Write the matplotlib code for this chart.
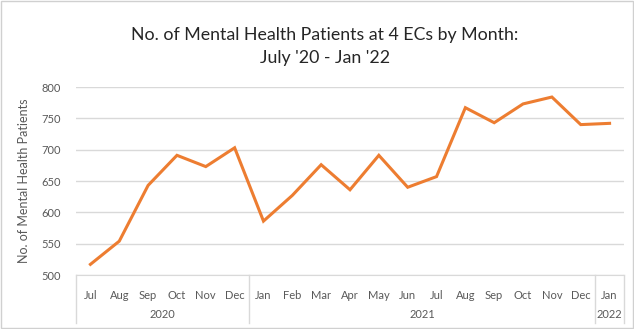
import matplotlib
matplotlib.use("Agg")
import matplotlib.pyplot as plt
from matplotlib.patches import Rectangle

months = ["Jul", "Aug", "Sep", "Oct", "Nov", "Dec",
          "Jan", "Feb", "Mar", "Apr", "May", "Jun", "Jul", "Aug", "Sep", "Oct", "Nov", "Dec",
          "Jan"]
years = ["2020", "2021", "2022"]
year_counts = [6, 12, 1]
patients = [517, 554, 643, 691, 673, 703,
            586, 627, 676, 636, 691, 640, 657, 767, 743, 773, 784, 740,
            742]
yticks = [500, 550, 600, 650, 700, 750, 800]

plt.rcParams['font.family'] = ['Lato', 'DejaVu Sans']
GRAY_TXT = "#595959"
GRID = "#d9d9d9"

fig = plt.figure(figsize=(6.34, 3.29), dpi=100)
ax = fig.add_axes([76/634, 1-275/329, (624-76)/634, (275-87)/329])

x = list(range(len(patients)))
ax.plot(x, patients, color="#ED7D31", lw=2.2, solid_joinstyle="miter")
ax.set_xlim(-0.5, len(patients) - 0.5)
ax.set_ylim(500, 800)
ax.set_yticks(yticks)
ax.set_yticklabels([str(v) for v in yticks], color=GRAY_TXT, fontsize=8)
ax.tick_params(axis='y', length=0, pad=11)
ax.grid(axis='y', color=GRID, lw=1)
ax.set_axisbelow(True)
for s in ax.spines.values():
    s.set_visible(False)
ax.spines['bottom'].set_visible(True)
ax.spines['bottom'].set_color(GRID)
ax.set_xticks(x)
ax.set_xticklabels(months, color=GRAY_TXT, fontsize=8)
ax.tick_params(axis='x', length=0, pad=11)

ax.set_ylabel("No. of Mental Health Patients", color=GRAY_TXT, fontsize=9)
ax.yaxis.set_label_coords((30-76)/548, 0.5)

# group separators and year labels
trans = ax.get_xaxis_transform()
bounds = [-0.5]
for c in year_counts:
    bounds.append(bounds[-1] + c)
for b in bounds:
    ax.plot([b, b], [0, -48/188], transform=trans, color=GRID, lw=1, clip_on=False)
for i, yr in enumerate(years):
    ax.text((bounds[i] + bounds[i+1]) / 2, -40/188, yr, transform=trans,
            ha='center', va='center', color=GRAY_TXT, fontsize=8)

fig.text(325/634, 1-35/329, "No. of Mental Health Patients at 4 ECs by Month:",
         ha='center', va='center', fontsize=12.8, color="#262626")
fig.text(325/634, 1-58/329, "July '20 - Jan '22",
         ha='center', va='center', fontsize=12.8, color="#262626")

fig.patches.append(Rectangle((0.002, 0.003), 0.996, 0.994, transform=fig.transFigure,
                             fill=False, edgecolor="#d0d0d0", lw=1))

fig.savefig("out.png", dpi=100)
